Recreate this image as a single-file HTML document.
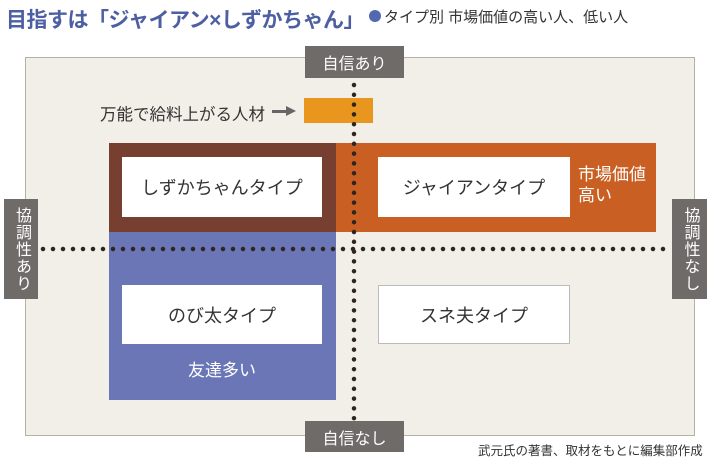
<!DOCTYPE html>
<html><head><meta charset="utf-8"><style>
*{margin:0;padding:0;box-sizing:border-box}
body{width:710px;height:460px;background:#fff;position:relative;overflow:hidden;font-family:"Liberation Sans","Noto Sans CJK JP",sans-serif;}
.a{position:absolute}
.w{position:absolute;background:#fff;display:flex;align-items:center;justify-content:center;font-size:18px;color:#333}
.g{position:absolute;background:#6f6b68;color:#fff;font-size:15px;display:flex;align-items:center;justify-content:center}
</style></head><body>
<div class="a" style="left:6px;top:4px;font-size:21px;font-weight:bold;color:#4d5fa3;letter-spacing:-0.5px">目指すは「ジャイアン×しずかちゃん」</div>
<div class="a" style="left:369px;top:10px;width:12px;height:12px;border-radius:50%;background:#5468b0"></div>
<div class="a" style="left:384px;top:6px;font-size:15px;color:#333">タイプ別 市場価値の高い人、低い人</div>
<div class="a" style="left:25px;top:57px;width:670px;height:379px;background:#f2efe8;border:1px solid #b5b0a8"></div>
<div class="a" style="left:109px;top:143px;width:227px;height:89px;background:#763f30"></div>
<div class="a" style="left:336px;top:143px;width:320px;height:89px;background:#c95f22"></div>
<div class="a" style="left:109px;top:232px;width:227px;height:168px;background:#6a76b6"></div>
<div class="w" style="left:122px;top:157px;width:200px;height:60px">しずかちゃんタイプ</div>
<div class="w" style="left:378px;top:157px;width:192px;height:60px">ジャイアンタイプ</div>
<div class="w" style="left:122px;top:285px;width:200px;height:59px">のび太タイプ</div>
<div class="w" style="left:378px;top:285px;width:192px;height:59px;border:1px solid #bbb">スネ夫タイプ</div>
<div class="a" style="left:578px;top:164px;font-size:17px;color:#fff;line-height:21px">市場価値<br>高い</div>
<div class="a" style="left:188px;top:356px;font-size:17px;color:#fff">友達多い</div>
<div class="a" style="left:304px;top:98px;width:69px;height:25px;background:#e8961e"></div>
<div class="a" style="left:100px;top:101px;font-size:16.5px;color:#333">万能で給料上がる人材</div>
<div class="a" style="left:272px;top:110px;width:16px;height:3px;background:#666"></div>
<div class="a" style="left:286px;top:106px;width:0;height:0;border-left:10px solid #666;border-top:5px solid transparent;border-bottom:5px solid transparent"></div>
<svg class="a" style="left:0;top:0" width="710" height="460">
<line x1="43" y1="249" x2="668" y2="249" stroke="#2e2520" stroke-width="4.5" stroke-linecap="round" stroke-dasharray="0 10"/>
<line x1="354" y1="85" x2="354" y2="420" stroke="#2e2520" stroke-width="4.5" stroke-linecap="round" stroke-dasharray="0 9.8"/>
</svg>
<div class="g" style="left:305px;top:46px;width:99px;height:32px;font-size:16px">自信あり</div>
<div class="g" style="left:305px;top:421px;width:99px;height:31px;font-size:16px">自信なし</div>
<div class="g" style="left:4px;top:199px;width:34px;height:100px;writing-mode:vertical-rl;letter-spacing:1px;font-size:16px">協調性あり</div>
<div class="g" style="left:672px;top:199px;width:35px;height:100px;writing-mode:vertical-rl;letter-spacing:1px;font-size:16px">協調性なし</div>
<div class="a" style="left:478px;top:440px;font-size:12.5px;color:#333">武元氏の著書、取材をもとに編集部作成</div>
</body></html>
